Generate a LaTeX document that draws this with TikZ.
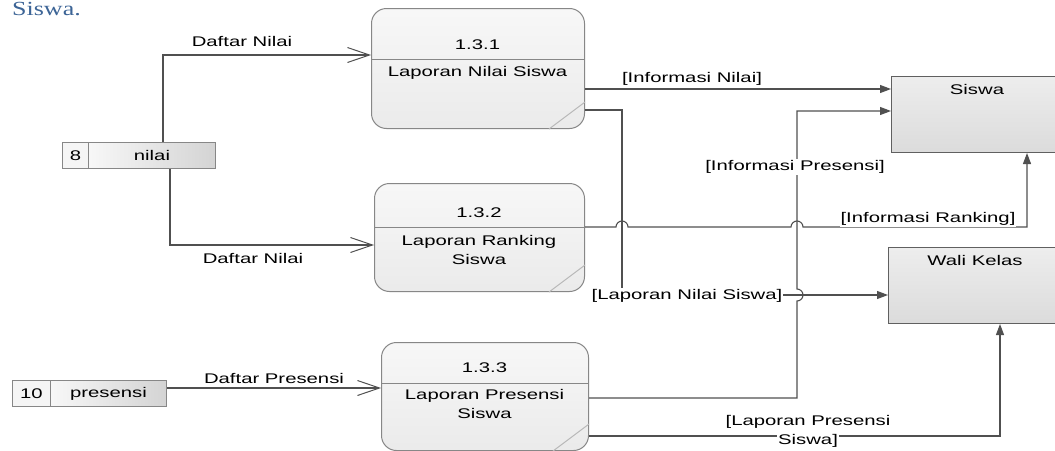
\documentclass[tikz,border=0pt]{standalone}
\usepackage{fontspec}
\setmainfont{Liberation Sans}[FakeStretch=1.45]
\newfontfamily\hdrfont{Liberation Serif}[FakeStretch=1.3]
\usetikzlibrary{arrows.meta,calc}
\definecolor{hdrblue}{RGB}{60,100,150}
\definecolor{linegray}{RGB}{80,80,80}
\definecolor{boxgray}{RGB}{135,135,135}
\setlength{\fboxsep}{1pt}
\begin{document}
\begin{tikzpicture}[x=1pt,y=-1pt,
  font=\fontsize{14}{19}\selectfont,
  proc/.style={draw=boxgray, line width=1pt, rounded corners=15pt, top color=white!97!black, bottom color=white!92!black, inner sep=0pt, anchor=north west},
  ent/.style={draw=gray!75!black, line width=1pt, top color=white!93!black, bottom color=white!86!black, inner sep=0pt, anchor=north west, minimum width=200pt, minimum height=76pt},
  storenum/.style={draw=boxgray, line width=1pt, fill=white!96!black, anchor=north west, inner sep=0pt, minimum height=26pt},
  storename/.style={draw=boxgray, line width=1pt, left color=white!97!black, right color=white!83!black, anchor=north west, inner sep=0pt, minimum height=26pt},
  flow/.style={draw=linegray, line width=1.1pt},
  into/.style={flow, -{Triangle[length=11pt,width=8pt]}},
  daf/.style={flow, -{Straight Barb[length=22pt,width=15pt,line width=1pt]}},
  lbl/.style={inner sep=1pt},
  wlbl/.style={inner sep=1pt, fill=white},
  divl/.style={draw=boxgray, line width=1pt},
  slash/.style={draw=gray!55, line width=1pt}]
\clip (0,0) rectangle (1055,450);
\fill[white] (0,0) rectangle (1055,450);
% heading fragment
\node[anchor=base west, inner sep=0pt, text=hdrblue, font=\hdrfont\fontsize{20}{24}\selectfont] (hdr) at (12,15) {Siswa.};
% processes
\node[proc, minimum width=213pt, minimum height=120pt] (p1) at (371,8) {};
\node[proc, minimum width=210pt, minimum height=108pt] (p2) at (374,183) {};
\node[proc, minimum width=207pt, minimum height=108pt] (p3) at (381,342) {};
\draw[divl] (p1.west |- 0,59) -- (p1.east |- 0,59);
\draw[divl] (p2.west |- 0,227) -- (p2.east |- 0,227);
\draw[divl] (p3.west |- 0,383) -- (p3.east |- 0,383);
\draw[slash] ($(p1.south east)+(-36,0)$) -- ($(p1.south east)+(0,-27)$);
\draw[slash] ($(p2.south east)+(-36,0)$) -- ($(p2.south east)+(0,-27)$);
\draw[slash] ($(p3.south east)+(-36,0)$) -- ($(p3.south east)+(0,-27)$);
\node (p1id) at (477.5,45) {1.3.1};
\node (p1name) at (477.5,73) {Laporan Nilai Siswa};
\node (p2id) at (479,213) {1.3.2};
\node[align=center] (p2name) at (479,250) {Laporan Ranking\\Siswa};
\node (p3id) at (484.5,368) {1.3.3};
\node[align=center] (p3name) at (484.5,404) {Laporan Presensi\\Siswa};
% data stores
\node[storenum, minimum width=26pt] (s8n) at (62,142) {8};
\node[storename, minimum width=127pt] (s8) at (88,142) {nilai};
\node[storenum, minimum width=38pt] (s10n) at (12,380) {10};
\node[storename, minimum width=116pt] (s10) at (50,380) {presensi};
% entities
\node[ent] (e1) at (891,76) {};
\node (e1t) at (977,89) {Siswa};
\node[ent] (e2) at (888,247) {};
\node (e2t) at (975,260) {Wali Kelas};
% flows
\draw[daf] (163,0 |- s8.north) |- (p1.west |- 0,55);
\draw[daf] (170,0 |- s8.south) |- (p2.west |- 0,245);
\draw[daf] (s10.east |- 0,388) -- (p3.west |- 0,388);
\draw[into] (p1.east |- 0,89) -- (e1.west |- 0,89);
\draw[into] (p1.east |- 0,110) -| (622,295) -- (e2.west |- 0,295);
\draw[into] (p3.east |- 0,398) -- (797,398) -- (797,301) arc[start angle=-90,end angle=90,radius=6pt] |- (e1.west |- 0,111);
\draw[into] (p2.east |- 0,227) -- (616,227) arc[start angle=180,end angle=0,radius=6pt] -- (791,227) arc[start angle=180,end angle=0,radius=6pt] -| (e1.south -| 1027,0);
\draw[into] (p3.east |- 0,436) -| (e2.south -| 1000,0);
% labels
\node[lbl] (l1) at (242,41) {Daftar Nilai};
\node[lbl] (l2) at (253,258) {Daftar Nilai};
\node[lbl] (l3) at (274,378) {Daftar Presensi};
\node[lbl] (l4) at (692,79) {[Informasi Nilai]};
\node[wlbl] (l5) at (687,296) {[Laporan Nilai Siswa]};
\node[wlbl] (l6) at (795,167) {[Informasi Presensi]};
\node[wlbl] (l7) at (928,219) {[Informasi Ranking]};
\node[lbl, align=center, inner sep=0pt] (l8) at (808,432) {[Laporan Presensi\\\colorbox{white}{Siswa]}};
\end{tikzpicture}
\end{document}
